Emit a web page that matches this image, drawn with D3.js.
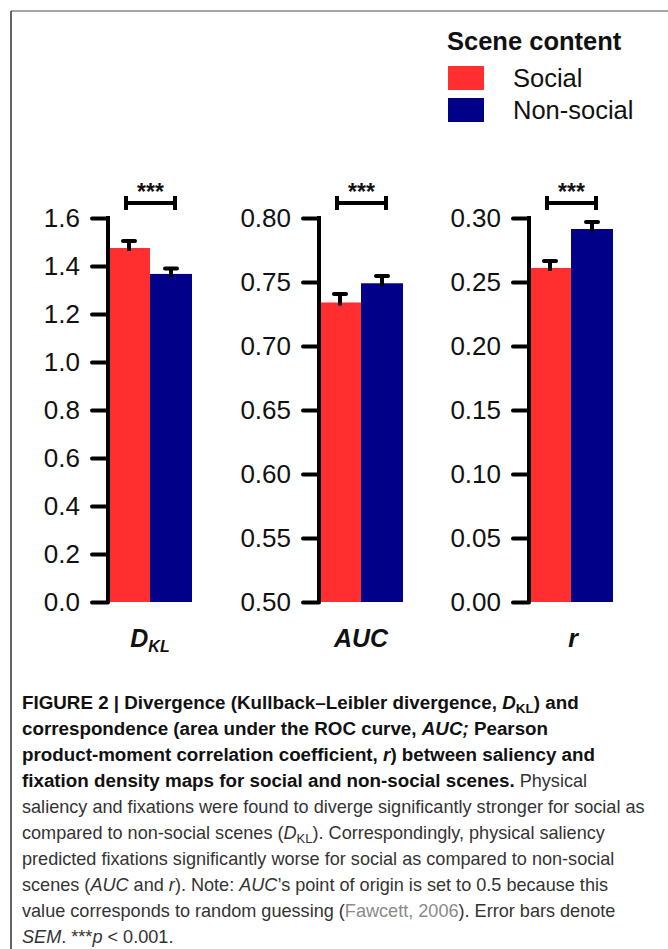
<!DOCTYPE html>
<html>
<head>
<meta charset="utf-8">
<script src="https://cdn.jsdelivr.net/npm/d3@7"></script>
<style>
  html, body { margin: 0; padding: 0; background: #fff; }
  svg { display: block; }
</style>
</head>
<body>
<svg id="chart" width="668" height="949"></svg>
<script>
// ---------- data ----------
const metrics = ["D", "AUC", "r"];
const metricSubs = ["KL", "", ""];
const groups = ["Social", "Non-social"];
const socialMeans = [1.475, 0.734, 0.261];
const nonSocialMeans = [1.367, 0.749, 0.2914];
const socialSEM = [0.029, 0.0066, 0.0054];
const nonSocialSEM = [0.023, 0.0057, 0.0055];
const yDomains = [[0, 1.6], [0.5, 0.8], [0, 0.3]];
const tickValues = [
  [0, 0.2, 0.4, 0.6, 0.8, 1.0, 1.2, 1.4, 1.6],
  [0.50, 0.55, 0.60, 0.65, 0.70, 0.75, 0.80],
  [0.00, 0.05, 0.10, 0.15, 0.20, 0.25, 0.30]
];
const tickFormats = [".1f", ".2f", ".2f"];
const sigLabels = ["***", "***", "***"];

// ---------- styling ----------
const colors = { "Social": "#ff2f2f", "Non-social": "#000088" };
const svg = d3.select("#chart");
const FONT = "'Liberation Sans', Arial, Helvetica, sans-serif";

// frame
svg.append("line").attr("x1", 11).attr("x2", 668).attr("y1", 11).attr("y2", 11)
  .attr("stroke", "#888").attr("stroke-width", 1.5);
svg.append("line").attr("x1", 11).attr("x2", 11).attr("y1", 11).attr("y2", 949)
  .attr("stroke", "#333").attr("stroke-width", 1.5);

// ---------- panels ----------
const axisX = [108, 319, 529];
const barW = 42;
const yTop = 218, yBottom = 602;

metrics.forEach((m, i) => {
  const g = svg.append("g");
  const y = d3.scaleLinear().domain(yDomains[i]).range([yBottom, yTop]);
  const x = d3.scaleBand().domain(groups).range([axisX[i], axisX[i] + 2 * barW]).padding(0);

  // bars
  const vals = [socialMeans[i], nonSocialMeans[i]];
  const sems = [socialSEM[i], nonSocialSEM[i]];
  g.selectAll("rect.bar").data(groups).join("rect")
    .attr("class", "bar")
    .attr("x", d => x(d))
    .attr("width", x.bandwidth())
    .attr("y", (d, j) => y(vals[j]))
    .attr("height", (d, j) => y(yDomains[i][0]) - y(vals[j]))
    .attr("fill", d => colors[d]);

  // error bars (upper only)
  groups.forEach((grp, j) => {
    const cx = x(grp) + x.bandwidth() / 2;
    g.append("line").attr("x1", cx).attr("x2", cx)
      .attr("y1", y(vals[j]) + 3).attr("y2", y(vals[j] + sems[j]))
      .attr("stroke", "#000").attr("stroke-width", 4);
    g.append("line").attr("x1", cx - 6).attr("x2", cx + 6)
      .attr("y1", y(vals[j] + sems[j])).attr("y2", y(vals[j] + sems[j]))
      .attr("stroke", "#000").attr("stroke-width", 4).attr("stroke-linecap", "round");
  });

  // y axis
  const axis = d3.axisLeft(y).tickValues(tickValues[i]).tickFormat(d3.format(tickFormats[i]))
    .tickSizeInner(16).tickSizeOuter(0).tickPadding(12);
  const ag = g.append("g").attr("transform", `translate(${axisX[i]},0)`).call(axis);
  ag.select(".domain").attr("stroke", "#000").attr("stroke-width", 4)
    .attr("d", `M0,${yTop - 2}V${yBottom}`);
  ag.selectAll(".tick line").attr("stroke", "#000").attr("stroke-width", 4).attr("stroke-linecap", "round");
  ag.selectAll(".tick text").attr("font-family", FONT).attr("font-size", 26).attr("fill", "#111");

  // significance bracket
  const bx1 = x(groups[0]) + x.bandwidth() / 2 - 3;
  const bx2 = x(groups[1]) + x.bandwidth() / 2 + 4;
  const by = 203;
  g.append("line").attr("x1", bx1).attr("x2", bx2).attr("y1", by).attr("y2", by)
    .attr("stroke", "#000").attr("stroke-width", 4);
  [bx1, bx2].forEach(bx => {
    g.append("line").attr("x1", bx).attr("x2", bx).attr("y1", by - 7).attr("y2", by + 7)
      .attr("stroke", "#000").attr("stroke-width", 4);
  });
  g.append("text").attr("x", (bx1 + bx2) / 2).attr("y", 200)
    .attr("text-anchor", "middle").attr("font-family", FONT).attr("font-weight", "bold")
    .attr("font-size", 23).attr("fill", "#111").text(sigLabels[i]);

  // x label
  const lt = g.append("text").attr("x", axisX[i] + barW + (i === 2 ? 2 : 0)).attr("y", 647)
    .attr("text-anchor", "middle").attr("font-family", FONT)
    .attr("font-weight", "bold").attr("font-style", "italic").attr("font-size", 25).attr("fill", "#111");
  lt.append("tspan").text(m);
  if (metricSubs[i]) {
    lt.append("tspan").attr("font-size", 16).attr("dy", 5).text(metricSubs[i]);
  }
});

// ---------- legend ----------
const lg = svg.append("g");
lg.append("text").attr("x", 447).attr("y", 50).attr("font-family", FONT)
  .attr("font-weight", "bold").attr("font-size", 25.5).attr("fill", "#111").text("Scene content");
groups.forEach((grp, j) => {
  lg.append("rect").attr("x", 448).attr("y", 66 + j * 32).attr("width", 36).attr("height", 24)
    .attr("fill", colors[grp]);
  lg.append("text").attr("x", 513).attr("y", 87 + j * 32).attr("font-family", FONT)
    .attr("font-size", 25.5).attr("fill", "#111").text(grp);
});

// ---------- caption ----------
const B = "b", BI = "bi", R = "r", I = "i", L = "link";
const captionLines = [
  [[B, "FIGURE 2 | Divergence (Kullback–Leibler divergence, "], [BI, "D"], [B, "KL", 1], [B, ") and"]],
  [[B, "correspondence (area under the ROC curve, "], [BI, "AUC;"], [B, " Pearson"]],
  [[B, "product-moment correlation coefficient, "], [BI, "r"], [B, ") between saliency and"]],
  [[B, "fixation density maps for social and non-social scenes."], [R, " Physical"]],
  [[R, "saliency and fixations were found to diverge significantly stronger for social as"]],
  [[R, "compared to non-social scenes ("], [I, "D"], [R, "KL", 1], [R, "). Correspondingly, physical saliency"]],
  [[R, "predicted fixations significantly worse for social as compared to non-social"]],
  [[R, "scenes ("], [I, "AUC"], [R, " and "], [I, "r"], [R, "). Note: "], [I, "AUC"], [R, "’s point of origin is set to 0.5 because this"]],
  [[R, "value corresponds to random guessing ("], [L, "Fawcett, 2006"], [R, "). Error bars denote"]],
  [[I, "SEM"], [R, ". ***"], [I, "p"], [R, " < 0.001."]]
];
const boldSize = 18.8, regSize = 18.1;
const cap = svg.append("g").attr("transform", "translate(22,0)");
captionLines.forEach((segs, k) => {
  const t = cap.append("text").attr("x", 0).attr("y", 709 + k * 26)
    .attr("font-family", FONT).attr("font-size", regSize);
  let subbed = false;
  segs.forEach(([st, txt, sub]) => {
    const ts = t.append("tspan").text(txt);
    const isBold = (st === B || st === BI);
    const fs = isBold ? boldSize : regSize;
    ts.attr("font-size", fs);
    if (isBold) ts.attr("font-weight", "bold").attr("fill", "#111");
    else ts.attr("fill", st === L ? "#8a8a8a" : "#333");
    if (st === BI || st === I) ts.attr("font-style", "italic");
    if (sub) { ts.attr("font-size", fs * 0.72).attr("dy", 4); subbed = true; }
    else if (subbed) { ts.attr("dy", -4); subbed = false; }
  });
});
</script>
</body>
</html>
